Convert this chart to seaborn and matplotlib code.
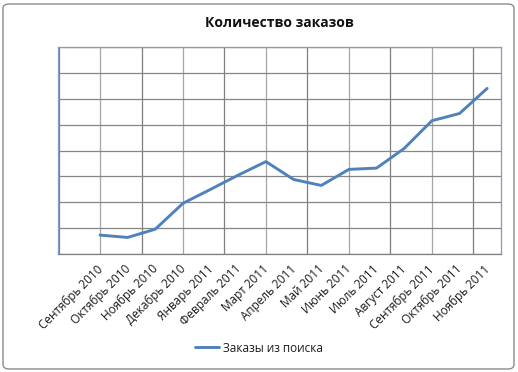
import numpy as np
import pandas as pd
import matplotlib
matplotlib.use("Agg")
import matplotlib.pyplot as plt
import matplotlib.transforms as mtransforms
from matplotlib.patches import FancyBboxPatch
import seaborn as sns

months = ["Сентябрь 2010", "Октябрь 2010", "Ноябрь 2010", "Декабрь 2010",
          "Январь 2011", "Февраль 2011", "Март 2011", "Апрель 2011",
          "Май 2011", "Июнь 2011", "Июль 2011", "Август 2011",
          "Сентябрь 2011", "Октябрь 2011", "Ноябрь 2011"]
orders = [0.73, 0.64, 0.96, 1.96, 2.5, 3.05, 3.57, 2.88, 2.65, 3.27, 3.32,
          4.08, 5.15, 5.43, 6.4]
series_name = "Заказы из поиска"
title = "Количество заказов"

df = pd.DataFrame({"idx": np.arange(len(months)), "value": orders,
                   "series": series_name})

sns.set_style("white")
plt.rcParams["font.family"] = ["Open Sans", "DejaVu Sans"]

fig = plt.figure(figsize=(5.18, 3.72), dpi=100)
ax = fig.add_axes([58 / 518, 1 - 254 / 372, (501 - 58) / 518, (254 - 47) / 372])

# outer chart border
fig.patches.append(FancyBboxPatch((3 / 518, 3 / 372), 511 / 518, 365 / 372,
                                  boxstyle="round,pad=0,rounding_size=0.012",
                                  transform=fig.transFigure, fill=False,
                                  edgecolor="#8c8c8c", linewidth=1.0))

# vertical gridlines
for xv in np.arange(0, 13, 3):
    ax.axvline(xv, color="#a6a6a6", lw=0.9, zorder=0)
ax.set_xticks(np.arange(-1.5, 14, 3), minor=True)
ax.grid(True, which="minor", axis="x", color="#7f7f7f", lw=0.9, zorder=0)
ax.tick_params(axis="x", which="minor", length=4, color="#7f7f7f", width=0.9)

sns.lineplot(data=df, x="idx", y="value", hue="series", ax=ax,
             palette=["#4F81BD"], linewidth=2.1, legend=True)

ax.set_xlim(-1.52, 14.5)
ax.set_ylim(0, 8)
ax.set_yticks(np.arange(0, 9, 1))
ax.set_yticklabels([])
ax.tick_params(axis="y", length=0)
ax.grid(True, which="major", axis="y", color="#868686", lw=0.9)
ax.set_xticks(np.arange(len(months)))
ax.set_xticklabels(months, rotation=45, ha="right", rotation_mode="anchor",
                   fontsize=8.5, color="#1a1a1a")
ax.tick_params(axis="x", which="major", length=0, pad=6)
offset = mtransforms.ScaledTranslation(-4 / 100, 0, fig.dpi_scale_trans)
for lbl in ax.get_xticklabels():
    lbl.set_transform(lbl.get_transform() + offset)
ax.set_xlabel("")
ax.set_ylabel("")
for s in ["left", "top", "right"]:
    ax.spines[s].set_color("#7f9dc6")
    ax.spines[s].set_linewidth(0.9)
ax.spines["bottom"].set_color("#7f7f7f")
ax.spines["bottom"].set_linewidth(0.9)

ax.set_title(title, fontsize=10, fontweight="bold", pad=0,
             y=1 + (47 - 21) / 207 - 0.03, color="#111111")

handles, labels = ax.get_legend_handles_labels()
ax.get_legend().remove()
leg = fig.legend(handles, labels, loc="center",
                 bbox_to_anchor=(259 / 518, 1 - 348 / 372),
                 frameon=False, fontsize=8.5, handlelength=2.0,
                 handletextpad=0.3)
for t in leg.get_texts():
    t.set_color("#1a1a1a")

fig.savefig("out.png", dpi=100)
